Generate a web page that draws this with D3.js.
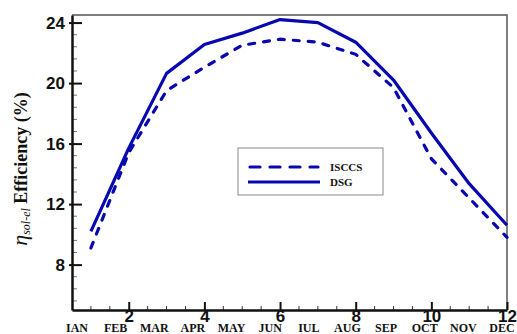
<!DOCTYPE html>
<html>
<head>
<meta charset="utf-8">
<script src="https://cdn.jsdelivr.net/npm/d3@7"></script>
<style>
  body { margin: 0; background: #fff; }
  svg { display: block; }
</style>
</head>
<body>
<div id="chart"></div>
<script>
// data
const months = [1, 2, 3, 4, 5, 6, 7, 8, 9, 10, 11, 12];
const monthNames = ["IAN", "FEB", "MAR", "APR", "MAY", "JUN", "IUL", "AUG", "SEP", "OCT", "NOV", "DEC"];
const isccs = [9.1, 15.4, 19.5, 21.05, 22.5, 22.9, 22.7, 21.9, 19.7, 15.0, 12.4, 9.8];
const dsg = [10.2, 15.7, 20.64, 22.55, 23.3, 24.2, 24.0, 22.7, 20.2, 16.7, 13.35, 10.6];
const xTicks = [2, 4, 6, 8, 10, 12];
const yTicks = [8, 12, 16, 20, 24];

const width = 517, height = 334;
const margin = { left: 72, right: 10, top: 15, bottom: 24 };
const blue = "#0808b0";

const svg = d3.select("#chart").append("svg")
    .attr("width", width)
    .attr("height", height);

const x = d3.scaleLinear().domain([0.5, 12]).range([margin.left, width - margin.right]);
const y = d3.scaleLinear().domain([5, 24.5]).range([height - margin.bottom, margin.top]);

// frame (top + right in grey)
svg.append("path")
    .attr("d", `M${x(0.5)},${y(24.5)}H${x(12)}V${y(5)}`)
    .attr("fill", "none")
    .attr("stroke", "#555")
    .attr("stroke-width", 1.5);

// minor ticks
const minorX = d3.range(1, 12.01, 0.5).filter(v => v % 2 !== 0);
const minorY = d3.range(5.6, 24.5, 0.8).filter(v => Math.abs(v / 4 - Math.round(v / 4)) > 0.01);

svg.append("g").selectAll("line").data(minorX).enter().append("line")
    .attr("x1", d => x(d)).attr("x2", d => x(d))
    .attr("y1", y(5)).attr("y2", y(5) - 4)
    .attr("stroke", "#333").attr("stroke-width", 1);

svg.append("g").selectAll("line").data(minorY).enter().append("line")
    .attr("x1", x(0.5)).attr("x2", x(0.5) + 5)
    .attr("y1", d => y(d)).attr("y2", d => y(d))
    .attr("stroke", "#777").attr("stroke-width", 1);

// axes
const xAxis = svg.append("g")
    .attr("transform", `translate(0,${y(5)})`)
    .call(d3.axisBottom(x).tickValues(xTicks).tickSize(-8).tickPadding(3).tickSizeOuter(0));
const yAxis = svg.append("g")
    .attr("transform", `translate(${x(0.5)},0)`)
    .call(d3.axisLeft(y).tickValues(yTicks).tickSize(-10).tickPadding(7).tickSizeOuter(0));

[xAxis, yAxis].forEach(a => {
    a.select(".domain").attr("stroke", "#111").attr("stroke-width", 2.5);
    a.selectAll(".tick line").attr("stroke", "#111").attr("stroke-width", 2);
    a.selectAll(".tick text")
        .attr("fill", "#111")
        .style("font-family", "Liberation Sans, Arial, sans-serif")
        .style("font-weight", "bold")
        .style("font-size", "17px");
});
xAxis.selectAll(".tick text").attr("dy", "0.5em");
yAxis.selectAll(".tick line").attr("x1", -3);

// month labels (they sit just under the tick numbers, as in the original)
const mScale = d3.scalePoint().domain(monthNames).range([77, 502]);
svg.append("g").selectAll("text").data(monthNames).enter().append("text")
    .attr("x", d => mScale(d))
    .attr("y", 332)
    .attr("text-anchor", "middle")
    .style("font-family", "Liberation Serif, Times New Roman, serif")
    .style("font-weight", "bold")
    .style("font-size", "12px")
    .attr("fill", "#111")
    .text(d => d);

// lines
const line = d3.line().x(d => x(d[0])).y(d => y(d[1]));

svg.append("path")
    .datum(d3.zip(months, isccs))
    .attr("d", line)
    .attr("fill", "none")
    .attr("stroke", blue)
    .attr("stroke-width", 3.2)
    .attr("stroke-linecap", "round")
    .attr("stroke-dasharray", "6,9");

svg.append("path")
    .datum(d3.zip(months, dsg))
    .attr("d", line)
    .attr("fill", "none")
    .attr("stroke", blue)
    .attr("stroke-width", 3.2)
    .attr("stroke-linejoin", "round");

// legend
const lg = svg.append("g").attr("transform", "translate(238,148)");
lg.append("rect")
    .attr("width", 145).attr("height", 47)
    .attr("fill", "#fff")
    .attr("stroke", "#888").attr("stroke-width", 1);
lg.append("line")
    .attr("x1", 12).attr("x2", 80).attr("y1", 19).attr("y2", 19)
    .attr("stroke", blue).attr("stroke-width", 3.2)
    .attr("stroke-linecap", "round")
    .attr("stroke-dasharray", "10,10");
lg.append("line")
    .attr("x1", 10).attr("x2", 82).attr("y1", 34).attr("y2", 34)
    .attr("stroke", blue).attr("stroke-width", 3.2);
lg.selectAll("text.lab").data(["ISCCS", "DSG"]).enter().append("text")
    .attr("class", "lab")
    .attr("x", 92)
    .attr("y", (d, i) => 23 + i * 15)
    .style("font-family", "Liberation Serif, Times New Roman, serif")
    .style("font-weight", "bold")
    .style("font-size", "11px")
    .attr("fill", "#111")
    .text(d => d);

// y label
const yl = svg.append("text")
    .attr("transform", "translate(27,169) rotate(-90)")
    .attr("text-anchor", "middle")
    .style("font-family", "Liberation Serif, Times New Roman, serif")
    .attr("fill", "#111");
yl.append("tspan").style("font-style", "italic").style("font-size", "22px").text("η");
yl.append("tspan").style("font-style", "italic").style("font-size", "12px").attr("dy", "3").text("sol-el");
yl.append("tspan").style("font-size", "18px").style("font-weight", "600").attr("dy", "-3").text(" Efficiency (%)");
</script>
</body>
</html>
